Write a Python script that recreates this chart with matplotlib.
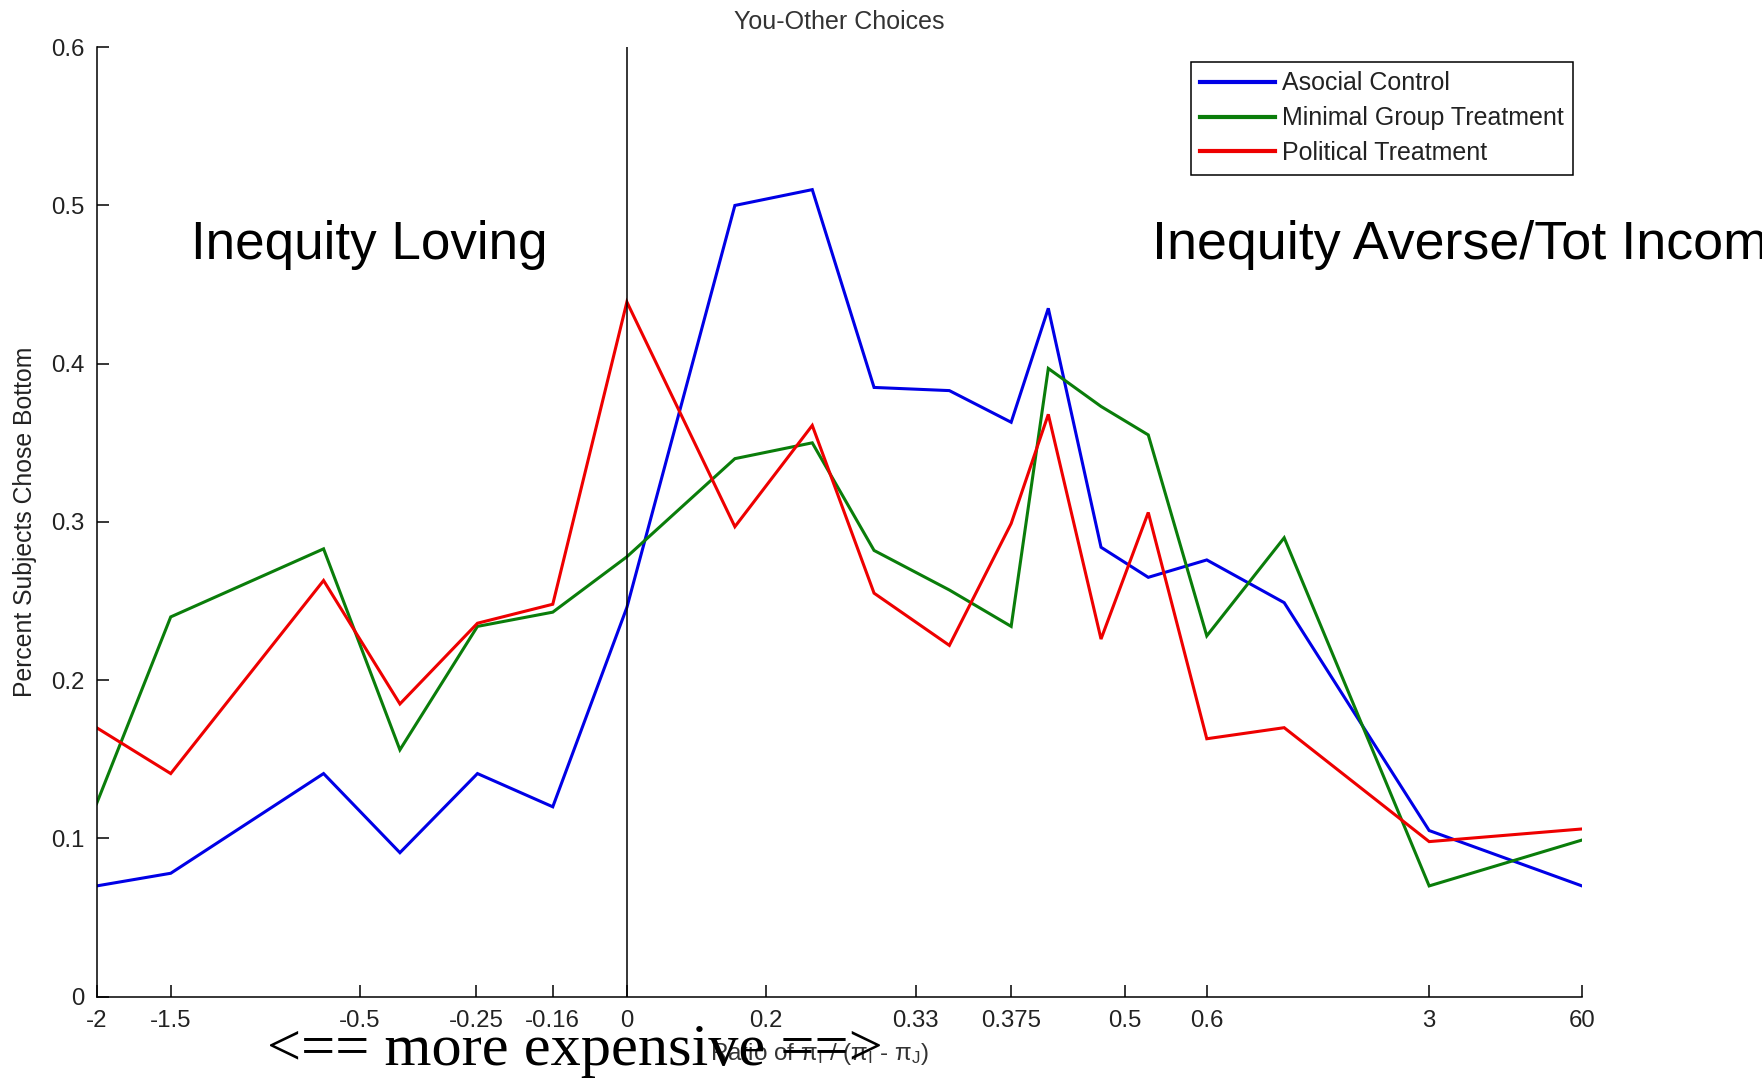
import matplotlib
matplotlib.use('Agg')
import matplotlib.pyplot as plt

# ---- data ----
# x positions along the (non-uniform) ratio axis, in % of axis length
pos = [0.0, 4.99, 15.28, 20.42, 25.64, 30.71, 35.70, 42.97, 48.18, 52.34,
       57.41, 61.57, 64.07, 67.62, 70.80, 74.74, 79.95, 89.71, 100.0]
asocial = [0.070, 0.078, 0.141, 0.091, 0.141, 0.120, 0.246, 0.500, 0.510, 0.385,
           0.383, 0.363, 0.435, 0.284, 0.265, 0.276, 0.249, 0.105, 0.070]
minimal = [0.122, 0.240, 0.283, 0.156, 0.234, 0.243, 0.278, 0.340, 0.350, 0.282,
           0.257, 0.234, 0.397, 0.373, 0.355, 0.228, 0.290, 0.070, 0.099]
political = [0.170, 0.141, 0.263, 0.185, 0.236, 0.248, 0.439, 0.297, 0.361, 0.255,
             0.222, 0.299, 0.368, 0.226, 0.306, 0.163, 0.170, 0.098, 0.106]

series_names = ['Asocial Control', 'Minimal Group Treatment', 'Political Treatment']

tick_pos = [0.0, 4.99, 17.70, 25.57, 30.71, 35.70, 45.08, 55.14, 61.57, 69.21,
            74.74, 89.71, 100.0]
tick_labels = ['-2', '-1.5', '-0.5', '-0.25', '-0.16', '0', '0.2', '0.33',
               '0.375', '0.5', '0.6', '3', '60']
y_ticks = [0, 0.1, 0.2, 0.3, 0.4, 0.5, 0.6]
y_tick_labels = ['0', '0.1', '0.2', '0.3', '0.4', '0.5', '0.6']
zero_pos = 35.70

# ---- drawing ----
plt.rcParams['font.family'] = ['Liberation Sans', 'DejaVu Sans']
plt.rcParams['mathtext.default'] = 'regular'

W, H = 1762, 1078
fig = plt.figure(figsize=(W / 100, H / 100), dpi=100)
left, right, top, bottom = 96.6, 1582.0, 47.2, 996.7
ax = fig.add_axes([left / W, 1 - bottom / H, (right - left) / W, (bottom - top) / H])

colors = ['#0000e6', '#0a7d0a', '#ee0000']
for vals, name, c in zip([asocial, minimal, political], series_names, colors):
    ax.plot(pos, vals, color=c, lw=2.2, label=name, solid_joinstyle='miter')

ax.axvline(zero_pos, color='black', lw=1.1)

ax.set_xlim(0, 100)
ax.set_ylim(0, 0.6)
ax.set_xticks(tick_pos)
ax.set_xticklabels(tick_labels)
ax.set_yticks(y_ticks)
ax.set_yticklabels(y_tick_labels)
for s in ['top', 'right']:
    ax.spines[s].set_visible(False)
for s in ['left', 'bottom']:
    ax.spines[s].set_linewidth(1.1)
ax.tick_params(direction='in', length=8.6, width=1.1, labelsize=17.3,
               labelcolor='#222222')
ax.tick_params(axis='y', pad=9)
ax.tick_params(axis='x', pad=9.5)

ax.set_title('You-Other Choices', fontsize=18, color='#333333', pad=13)
ax.set_ylabel('Percent Subjects Chose Bottom', fontsize=17.8, color='#222222')
ax.yaxis.set_label_coords(-0.040, 0.5)
ax.set_xlabel(r'Ratio of $\pi_I$ / ($\pi_I$ - $\pi_J$)', fontsize=17.5, color='#333333')
ax.xaxis.set_label_coords(0.487, -0.047)

leg = ax.legend(loc='upper right', bbox_to_anchor=(1573 / W, 1 - 62 / H),
                bbox_transform=fig.transFigure, borderaxespad=0,
                fontsize=18, frameon=True, fancybox=False, shadow=False,
                framealpha=1, edgecolor='black', handlelength=3.0,
                handletextpad=0.27, labelspacing=0.43, borderpad=0.38)
leg.get_frame().set_linewidth(1.1)
for t in leg.get_texts():
    t.set_color('#222222')
for l in leg.get_lines():
    l.set_linewidth(3.0)

fig.text(191 / W, 1 - 258.5 / H, 'Inequity Loving', fontsize=38.2,
         va='baseline', ha='left', color='black')
fig.text(1152 / W, 1 - 258.5 / H, 'Inequity Averse/Tot Income', fontsize=38.8,
         va='baseline', ha='left', color='black')
fig.text(267 / W, 1 - 1065 / H, '<== more expensive ==>', fontsize=43.5,
         family=['Liberation Serif', 'DejaVu Serif'], va='baseline', ha='left',
         color='black')

fig.savefig('out.png', dpi=100, facecolor='white')
